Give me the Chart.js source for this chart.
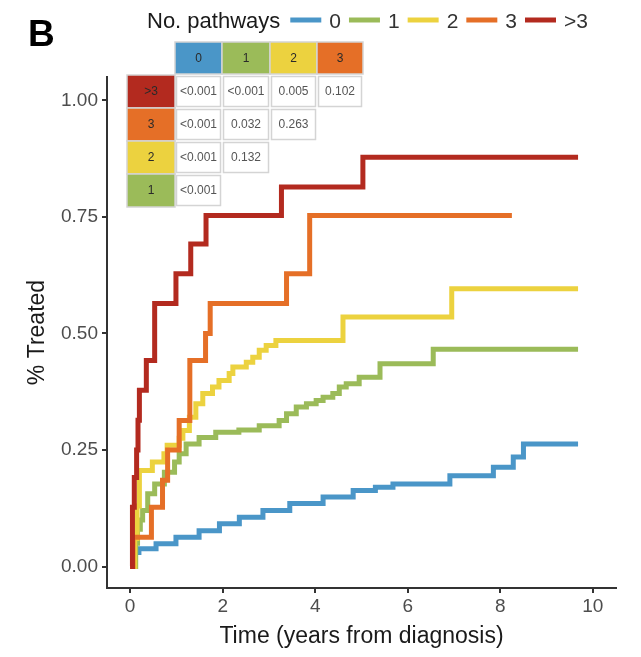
<!DOCTYPE html>
<html>
<head>
<meta charset="utf-8">
<script src="https://cdn.jsdelivr.net/npm/chart.js@4/dist/chart.umd.min.js"></script>
<style>
html, body { margin: 0; padding: 0; background: #fff; }
</style>
</head>
<body>
<canvas id="km" width="641" height="657"></canvas>
<script>
/* groups and colours */
let groups = ['0', '1', '2', '3', '>3']
let colors = ['#4a96c8', '#9bbb59', '#ecd23f', '#e56f27', '#b32a1f']

/* cumulative proportion treated, [time, value] at each step */
let km0 = [[0,0],[0.08,0.03],[0.19,0.038],[0.56,0.049],[0.99,0.063],[1.49,0.077],[1.93,0.092],[2.36,0.106],[2.87,0.12],[3.45,0.135],[4.17,0.149],[4.82,0.163],[5.3,0.17],[5.68,0.177],[6.91,0.195],[7.85,0.213],[8.28,0.235],[8.5,0.263],[9.68,0.263]]
let km1 = [[0,0],[0.12,0.05],[0.16,0.08],[0.22,0.1],[0.27,0.12],[0.38,0.156],[0.53,0.177],[0.74,0.202],[0.96,0.224],[1.06,0.242],[1.21,0.263],[1.49,0.277],[1.85,0.288],[2.35,0.293],[2.79,0.302],[3.22,0.313],[3.38,0.328],[3.59,0.342],[3.81,0.349],[4.02,0.356],[4.17,0.363],[4.38,0.371],[4.52,0.385],[4.67,0.392],[4.95,0.406],[5.4,0.435],[6.55,0.466],[9.68,0.466]]
let km2 = [[0,0],[0.1,0.06],[0.15,0.13],[0.2,0.206],[0.48,0.224],[0.73,0.242],[0.8,0.26],[1.06,0.275],[1.14,0.292],[1.28,0.32],[1.42,0.349],[1.57,0.371],[1.78,0.385],[1.92,0.399],[2.14,0.414],[2.22,0.428],[2.51,0.438],[2.65,0.449],[2.79,0.464],[2.94,0.474],[3.15,0.485],[4.6,0.535],[6.95,0.596],[9.68,0.596]]
let km3 = [[0,0],[0.06,0.063],[0.46,0.127],[0.7,0.185],[0.81,0.25],[1.06,0.313],[1.29,0.442],[1.63,0.5],[1.73,0.564],[3.38,0.628],[3.88,0.753],[8.25,0.753]]
let km4 = [[0,0],[0.05,0.127],[0.09,0.191],[0.14,0.25],[0.17,0.314],[0.2,0.378],[0.35,0.442],[0.53,0.564],[0.99,0.628],[1.31,0.692],[1.64,0.753],[3.27,0.814],[5.03,0.878],[9.68,0.878]]
let series = [km0, km1, km2, km3, km4]

/* axis ticks */
let xTicks = [0, 2, 4, 6, 8, 10]
let yTicks = [0, 0.25, 0.5, 0.75, 1]

/* pairwise log-rank p-values */
let pRows = ['>3', '3', '2', '1']
let pCols = ['0', '1', '2', '3']
let pVals = [
    ['<0.001', '<0.001', '0.005', '0.102'],
    ['<0.001', '0.032', '0.263'],
    ['<0.001', '0.132'],
    ['<0.001']
]

let font = 'Liberation Sans'

/* panel letter, legend and p-value table */
let decor = {
    id: 'decor',
    afterDraw(chart) {
        let c = chart.ctx
        c.save()
        c.textBaseline = 'alphabetic'
        c.fillStyle = '#000'
        c.font = 'bold 37px "' + font + '"'
        c.fillText('B', 28, 46)

        // legend
        let x = 147
        c.font = '22px "' + font + '"'
        c.fillStyle = '#1a1a1a'
        c.fillText('No. pathways', x, 28)
        x += c.measureText('No. pathways').width + 10
        c.font = '21px "' + font + '"'
        groups.forEach((g, i) => {
            c.strokeStyle = colors[i]
            c.lineWidth = 5
            c.beginPath()
            c.moveTo(x, 20)
            c.lineTo(x + 31, 20)
            c.stroke()
            x += 39
            c.fillStyle = '#333'
            c.fillText(g, x, 28)
            x += c.measureText(g).width + 8
        })

        // table
        let colX = [175, 222, 270, 317, 363]
        let rowY = [75, 108, 141, 174, 207]
        let headTop = 42, labelLeft = 127
        c.textAlign = 'center'
        c.textBaseline = 'middle'
        c.font = '12px "' + font + '"'
        c.lineWidth = 1.5
        c.strokeStyle = '#d4d4d4'
        pCols.forEach((g, j) => {
            let w = colX[j + 1] - colX[j]
            c.fillStyle = colors[groups.indexOf(g)]
            c.fillRect(colX[j], headTop, w, rowY[0] - headTop - 1)
            c.strokeRect(colX[j], headTop, w, rowY[0] - headTop - 1)
            c.fillStyle = '#2a2a2a'
            c.fillText(g, colX[j] + w / 2, (headTop + rowY[0]) / 2)
        })
        pRows.forEach((g, i) => {
            let h = rowY[i + 1] - rowY[i]
            c.fillStyle = colors[groups.indexOf(g)]
            c.fillRect(labelLeft, rowY[i], colX[0] - labelLeft, h)
            c.strokeRect(labelLeft, rowY[i], colX[0] - labelLeft, h)
            c.fillStyle = '#2a2a2a'
            c.fillText(g, (labelLeft + colX[0]) / 2, rowY[i] + h / 2)
            pVals[i].forEach((v, j) => {
                let w = colX[j + 1] - colX[j]
                c.fillStyle = '#fff'
                c.fillRect(colX[j] + 1, rowY[i] + 1, w - 2, h - 2)
                c.strokeRect(colX[j] + 1.5, rowY[i] + 1.5, w - 3, h - 3)
                c.fillStyle = '#555'
                c.fillText(v, colX[j] + w / 2, rowY[i] + h / 2)
            })
        })
        c.restore()
    }
}

let ctx = document.getElementById('km').getContext('2d')
new Chart(ctx, {
    type: 'line',
    data: {
        datasets: groups.map((g, i) => ({
            label: g,
            data: series[i].map(p => ({ x: p[0], y: p[1] })),
            borderColor: colors[i],
            backgroundColor: colors[i],
            borderWidth: 5,
            stepped: true,
            pointRadius: 0,
            fill: false,
            order: 4 - i,
            borderCapStyle: 'butt',
            borderJoinStyle: 'miter'
        }))
    },
    options: {
        responsive: false,
        animation: false,
        layout: { padding: { top: 77, right: 25, left: 0, bottom: 0 } },
        plugins: { legend: { display: false }, tooltip: { enabled: false } },
        scales: {
            x: {
                type: 'linear',
                min: -0.5,
                max: 10.5,
                afterBuildTicks: s => { s.ticks = xTicks.map(v => ({ value: v })) },
                afterFit: s => { s.height = 69 },
                grid: { drawOnChartArea: false, drawTicks: true, tickLength: 5, color: '#333', lineWidth: 2 },
                border: { display: true, color: '#333', width: 2 },
                ticks: { font: { family: font, size: 19 }, color: '#4d4d4d', padding: 2, maxRotation: 0 },
                title: { display: true, text: 'Time (years from diagnosis)', font: { family: font, size: 23 }, color: '#1a1a1a', padding: { top: 0, bottom: 7 } }
            },
            y: {
                min: -0.046,
                max: 1.05,
                afterBuildTicks: s => { s.ticks = yTicks.map(v => ({ value: v })) },
                afterFit: s => { s.width = 107 },
                grid: { drawOnChartArea: false, drawTicks: true, tickLength: 5, color: '#333', lineWidth: 2 },
                border: { display: true, color: '#333', width: 2 },
                ticks: { font: { family: font, size: 19 }, color: '#4d4d4d', padding: 4, callback: v => v.toFixed(2) },
                title: { display: true, text: '% Treated', font: { family: font, size: 23 }, color: '#1a1a1a', padding: { top: 24, bottom: 0 } }
            }
        }
    },
    plugins: [decor]
})
</script>
</body>
</html>
